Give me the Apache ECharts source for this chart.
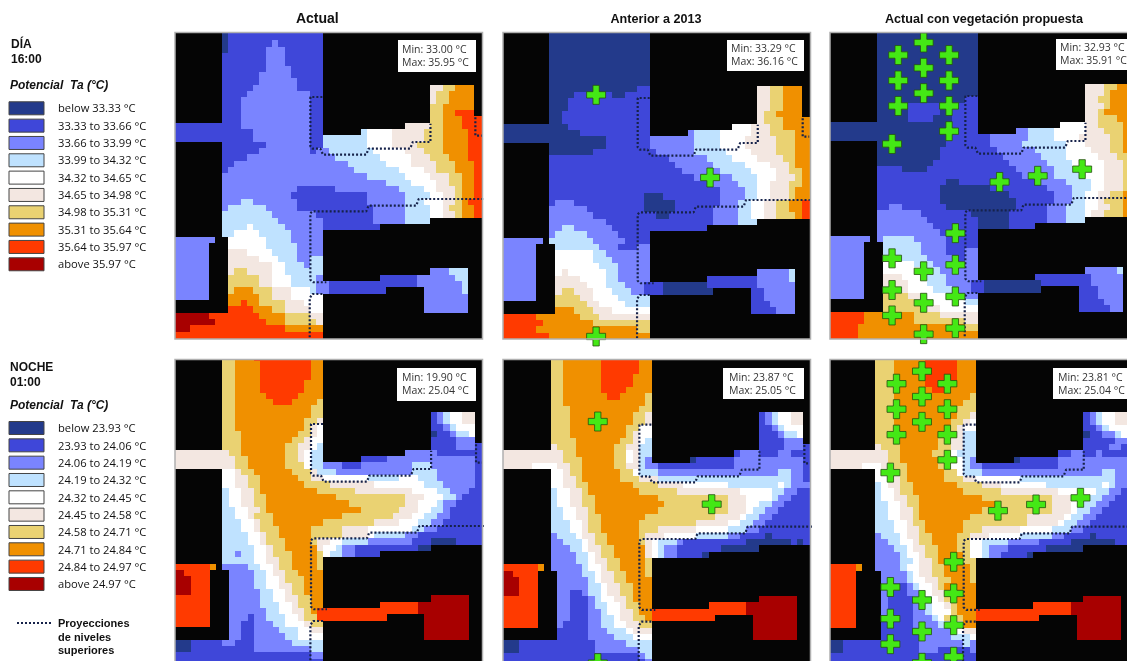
<!DOCTYPE html>
<html>
<head>
	<meta charset="utf-8">
	<title>Potencial Ta</title>
	<script src="https://cdn.jsdelivr.net/npm/echarts@6/dist/echarts.min.js"></script>
	<style>html,body{margin:0;padding:0;background:#fff;overflow:hidden}</style>
</head>
<body>
	<div id="main" style="width:1127px;height:661px;"></div>
	<script>
		// temperature classes, coolest to hottest
		var classColors = ['#233a8b','#3f47d9','#7a84ff','#bfe2ff','#ffffff','#f3e7e1','#ead272','#f09000','#ff3a00','#a80000'];
		var legendDay = ['below 33.33 °C','33.33 to 33.66 °C','33.66 to 33.99 °C','33.99 to 34.32 °C','34.32 to 34.65 °C','34.65 to 34.98 °C','34.98 to 35.31 °C','35.31 to 35.64 °C','35.64 to 35.97 °C','above 35.97 °C'];
		var legendNight = ['below 23.93 °C','23.93 to 24.06 °C','24.06 to 24.19 °C','24.19 to 24.32 °C','24.32 to 24.45 °C','24.45 to 24.58 °C','24.58 to 24.71 °C','24.71 to 24.84 °C','24.84 to 24.97 °C','above 24.97 °C'];
		var panelTitles = ['Actual','Anterior a 2013','Actual con vegetación propuesta'];
		var minMax = [['Min: 33.00 °C','Max: 35.95 °C'],['Min: 33.29 °C','Max: 36.16 °C'],['Min: 32.93 °C','Max: 35.91 °C'],['Min: 19.90 °C','Max: 25.04 °C'],['Min: 23.87 °C','Max: 25.05 °C'],['Min: 23.81 °C','Max: 25.04 °C']];

		// each row: "row| startColumn:class ..."; x = building, a row repeats until the next one
		var dayActual = [
			'0|8:0 9:1 24:x','2|8:0 9:1 16:2 17:1 24:x','3|8:0 9:1 15:2 18:1 24:x','4|8:1 15:2 18:1 24:x','6|8:1 15:2 19:1 24:x','7|8:1 14:2 19:1 24:x','8|8:1 14:2 20:1 24:x',
			'9|8:1 13:2 20:1 24:x 41:5 43:6 45:7 48:x','10|8:1 12:2 22:1 24:x 41:5 42:6 44:7 48:x','11|8:1 11:2 22:1 24:x 41:5 42:6 44:7 48:x','12|8:1 11:2 22:1 24:x 41:6 43:7 48:x','13|8:1 11:2 22:1 24:x 41:6 43:7 45:8 48:x','14|8:1 11:2 22:1 24:x 41:6 43:7 46:8',
			'15|0:1 11:2 22:1 24:x 37:5 41:6 43:7 46:8','16|0:1 13:2 22:1 24:x 30:3 31:4 35:5 40:6 43:7 47:8','17|0:1 13:2 22:1 24:3 31:4 35:5 40:6 43:7 47:8','18|8:1 15:2 22:1 24:3 31:4 35:5 39:6 43:7 47:8','19|8:1 14:2 22:1 23:2 25:3 32:4 37:5 40:6 43:7 47:8','20|8:1 12:2 26:3 33:4 38:5 41:6 44:7 47:8','21|8:1 10:2 28:3 34:4 38:5 42:6 45:7 48:8','22|8:1 9:2 29:3 36:4 40:5 42:6 45:7 48:8','23|8:2 31:3 37:4 41:5 44:6 46:7 48:8','24|8:2 34:3 38:4 42:5 44:6 46:7 48:8','25|8:2 20:1 26:2 36:3 40:4 42:5 45:6 46:7 48:8','26|8:2 19:1 31:2 37:3 41:4 43:5 45:6 46:7 48:8','27|8:2 11:3 13:2 20:1 31:2 37:3 40:4 43:5 45:6 46:7 47:8','28|8:2 9:3 15:2 20:1 32:2 37:3 41:4 43:5 44:6 46:7 48:8','29|8:3 16:2 23:1 32:2 37:3 41:4 43:5 45:6 46:7 48:8','30|8:3 17:2 24:1 32:2 37:3 41:x','31|8:3 12:4 13:3 18:2 24:1 33:x','32|8:3 10:4 14:3 19:2 24:x',
			'33|0:2 7:x 9:4 15:3 19:2 24:x','34|0:2 6:x 9:4 15:3 20:2 24:x','35|0:2 6:x 9:5 12:4 16:3 20:2 24:x','36|0:2 6:x 9:5 14:4 17:3 20:2 22:3 24:x','37|0:2 6:x 9:5 16:4 18:3 21:2 22:3 24:x','38|0:2 6:x 9:5 10:6 12:5 16:4 18:3 24:x 41:2 44:3 47:x','39|0:2 6:x 9:6 14:5 16:4 19:3 23:2 24:x 33:1 39:2 45:3 47:x','40|0:2 6:x 9:6 14:5 16:4 19:3 23:2 25:1 39:2 46:3 47:x','41|0:2 6:x 9:6 10:7 13:6 16:5 19:4 22:3 23:2 25:1 34:x 40:2 46:3 47:x','42|0:2 6:x 9:7 14:6 16:5 19:4 24:x 40:2 47:x','43|9:7 11:8 12:7 14:6 18:5 21:4 24:x 40:2 47:x','44|9:8 13:7 16:6 18:5 22:4 24:x 40:2 47:x','45|0:9 6:8 14:7 18:6 22:5 24:x','46|0:9 7:8 15:7 18:6 23:5 24:x','47|0:9 3:8 18:7 24:x','48|0:8 24:x'
		];
		var dayBefore = [
			'0|8:0 24:x','9|8:0 22:1 24:x 41:5 43:6 45:7 48:x','10|8:0 12:1 18:0 20:1 24:x 41:5 43:6 45:7 48:x','11|8:0 11:1 24:x 41:5 43:6 45:7 48:x','13|8:0 10:1 24:x 41:5 42:6 44:7 48:x','14|8:0 10:1 24:x 41:5 42:6 45:7','15|0:0 11:1 24:x 37:4 40:5 43:6 45:7','16|0:0 13:1 24:x 30:2 31:3 35:4 40:5 43:6 47:7','17|0:0 17:1 24:2 31:3 35:4 39:5 44:6 47:7','18|8:0 17:1 24:2 31:3 35:4 39:5 44:6 47:7','19|8:0 15:1 25:2 31:3 36:4 40:5 44:6 47:7','20|8:1 27:2 33:3 37:4 41:5 45:6 47:7','21|8:1 28:2 34:3 39:4 43:5 46:6 47:7','22|8:1 29:2 35:3 40:4 44:5 46:6 48:7','23|8:1 31:2 37:3 41:4 44:5 47:6 48:7','24|8:1 34:2 38:3 41:4 43:5 46:6 48:7','25|8:1 35:2 39:3 41:4 43:5 46:6 47:7','26|8:1 23:0 26:1 35:2 39:3 41:4 43:5 46:6 47:7','27|8:1 9:2 12:1 23:0 28:1 35:2 38:3 40:4 42:5 44:6 46:7 48:8','28|8:2 14:1 23:0 28:1 34:2 38:3 40:4 42:5 44:6 46:7 48:8','29|8:2 15:1 25:0 27:1 34:2 38:3 40:4 42:5 44:6 47:7 48:8','30|8:2 17:1 34:2 38:3 41:x','31|8:2 10:3 12:2 18:1 33:x','32|8:2 9:3 14:2 19:1 24:x',
			'33|0:2 7:x 8:3 15:2 20:1 24:x','34|0:2 6:x 9:3 16:2 19:1 22:2 24:x','35|0:2 6:x 9:4 15:3 17:2 24:x','36|0:2 6:x 9:4 15:3 18:2 24:x','37|0:2 6:x 9:4 16:3 19:2 24:x','38|0:2 6:x 9:4 10:5 11:4 17:3 19:2 24:x 41:2 46:3 47:x','39|0:2 6:x 9:5 13:4 17:3 19:2 24:x 33:1 41:2 46:3 47:x','40|0:2 6:x 9:5 14:4 17:3 20:2 23:1 26:0 33:1 41:2 47:x','41|0:2 6:x 9:5 10:6 12:5 15:4 18:3 21:2 23:1 26:0 34:x 40:1 42:2 47:x','42|0:2 6:x 9:6 13:5 15:4 19:3 24:x 40:1 42:2 47:x','43|9:6 14:5 16:4 20:3 24:x 40:1 43:2 47:x','44|9:7 12:6 15:5 18:4 24:x 40:1 44:2 47:x','45|0:8 6:7 13:6 16:5 24:x','46|0:8 7:7 15:6 24:x','47|0:8 6:7 22:6 24:x','48|0:8 8:7 24:x'
		];
		var dayProposed = [
			'0|8:0 24:x','9|8:0 24:x 41:5 44:6 46:7 48:x','10|8:0 24:x 41:5 44:6 45:7 48:x','11|8:0 22:1 24:x 41:5 43:6 45:7 48:x','12|8:0 13:1 18:0 20:1 24:x 41:5 44:6 45:7 48:x','13|8:0 13:1 18:0 20:1 24:x 41:5 43:6 44:7 48:x','14|8:0 13:1 17:0 20:1 24:x 41:5 43:6 46:7','15|0:0 20:1 24:x 37:4 41:5 43:6 47:7','16|0:0 20:1 24:x 30:2 32:3 36:4 41:5 44:6 47:7','17|0:0 19:1 26:2 32:3 36:4 40:5 45:6 47:7','18|8:0 19:1 26:2 31:3 38:4 41:5 45:6 47:7','19|8:0 18:1 27:2 33:3 38:4 42:5 45:6 47:7','20|8:0 18:1 28:2 34:3 38:4 43:5 46:6','21|8:0 17:1 29:2 35:3 39:4 44:5 47:6','22|8:1 12:0 16:1 30:2 36:3 39:4 44:5 47:6','23|8:1 31:2 36:3 41:4 44:5 47:6','24|8:1 19:0 21:1 34:2 38:3 42:4 44:5 47:6','25|8:1 18:0 26:1 35:2 39:3 42:4 44:5 47:6','26|8:1 18:0 29:1 36:2 39:3 41:4 43:5 45:6 47:7','27|8:1 18:0 30:1 36:2 39:3 41:4 43:5 44:6 47:7','28|8:1 10:2 12:1 19:0 30:1 35:2 38:3 41:4 43:5 45:6 47:7','29|8:2 15:1 23:0 29:1 35:2 38:3 41:4 42:5 44:6 47:7','30|8:2 16:1 24:0 29:1 35:2 38:3 41:x','31|8:2 17:1 24:0 29:1 33:x','32|8:2 18:1 24:x',
			'33|0:2 7:x 8:2 9:3 14:2 19:1 24:x','34|0:2 6:x 9:3 15:2 19:1 24:x','35|0:2 6:x 9:3 15:2 19:1 22:2 24:x','36|0:2 6:x 9:3 16:2 20:1 22:2 24:x','37|0:2 6:x 9:4 14:3 17:2 24:x','38|0:2 6:x 9:4 15:3 18:2 24:x 41:2 46:3 47:x','39|0:2 6:x 9:5 12:4 16:3 19:2 24:x 33:1 42:2 47:x','40|0:2 6:x 9:5 13:4 16:3 19:2 23:1 25:0 34:1 42:2 47:x','41|0:2 6:x 9:5 13:4 17:3 20:2 23:1 25:0 34:x 40:1 43:2 47:x','42|0:2 6:x 9:6 13:5 15:4 19:3 21:2 24:x 40:1 43:2 47:x','43|9:6 14:5 16:4 22:3 24:x 40:1 44:2 47:x','44|9:6 15:5 18:4 24:x 40:1 45:2 47:x','45|0:8 6:7 14:6 18:5 24:x','46|0:8 6:7 14:6 22:5 24:x','47|0:8 5:7 22:6 24:x','48|0:8 5:7 24:x'
		];
		var nightActual = [
			'0|8:6 10:7 13:8 22:7 24:x','1|8:6 10:7 14:8 22:7 24:x','4|8:6 10:7 14:8 21:7 24:x','6|8:6 10:7 15:8 20:7 24:x','7|8:6 10:7 16:8 19:7 23:6 24:x','8|8:6 10:7 22:6 24:x','9|8:6 10:7 22:6 24:x 41:1 42:2 43:3 44:4 46:5 48:x','10|8:6 10:7 21:6 23:5 24:x 41:1 42:2 43:3 44:4 46:5 48:x','11|8:6 10:7 21:6 22:5 23:4 24:x 41:1 43:2 44:3 45:4 48:x','12|8:6 11:7 20:6 22:5 23:4 24:x 41:0 42:1 44:2 45:3 47:4 48:x','13|8:6 11:7 19:6 21:5 22:4 24:x 41:1 45:2 48:x','14|8:6 11:7 18:6 20:5 22:4 23:3 24:x 41:1 45:2 48:1','15|0:5 9:6 11:7 18:6 20:5 21:4 22:3 24:x 37:2 42:1','16|0:5 10:6 12:7 18:6 20:5 21:4 22:3 24:x 30:1 34:2 48:1','17|0:5 10:6 12:7 18:6 21:4 22:3 24:2 27:1 30:2 38:3 41:2 48:1','18|8:4 10:5 11:6 13:7 19:6 22:5 23:3 26:2 38:3 42:2 48:1','19|8:4 10:5 12:6 14:7 20:6 22:5 24:4 31:3 36:4 39:3 42:2 48:1','20|8:4 10:5 12:6 14:7 21:6 25:5 32:4 40:3 43:2 48:1','21|8:3 9:4 11:5 13:6 14:7 23:6 29:5 38:4 42:3 44:2 47:1','22|8:3 9:4 11:5 13:6 15:7 26:6 37:5 40:4 43:3 45:2 46:1','23|8:3 9:4 11:5 13:6 15:7 28:6 37:5 39:4 42:3 43:2 45:1','24|8:3 10:4 12:5 14:6 15:7 30:6 36:5 39:4 41:3 43:2 44:1','25|8:3 10:4 12:5 13:6 16:7 27:6 35:5 38:4 40:3 42:2 44:1','26|8:3 11:4 13:5 14:6 16:7 24:6 32:5 36:4 39:3 41:2 43:1','27|8:3 11:4 13:5 14:6 17:7 22:6 27:5 31:4 38:3 40:2 42:1','28|8:3 12:4 14:5 15:6 17:7 22:6 27:5 31:4 32:3 37:2 39:1','29|8:3 12:4 14:5 15:6 18:7 22:6 23:5 25:4 27:3 31:2 38:1 41:0 45:1','30|8:3 13:4 15:5 16:6 18:7 23:5 24:4 26:3 27:2 29:1 39:0 41:x','31|8:3 10:2 11:3 13:4 15:5 16:6 19:7 23:6 24:4 25:3 27:2 29:1 33:x','32|8:3 13:4 15:5 17:6 19:7 23:6 24:x',
			'33|0:8 6:7 7:x 8:2 12:3 14:4 16:5 17:6 19:7 23:6 24:x','34|0:9 2:8 6:x 9:2 13:3 15:4 16:5 18:6 20:7 24:x','35|0:9 3:8 6:x 9:2 13:3 15:4 17:5 18:6 21:7 24:x','36|0:9 3:8 6:x 9:2 13:3 15:4 17:5 19:6 21:7 24:x','37|0:9 3:8 6:x 9:2 14:3 16:4 18:5 19:6 21:7 24:x','38|0:8 6:x 9:2 14:3 16:4 18:5 20:6 22:7 24:x 41:9 47:x','39|0:8 6:x 9:2 14:3 17:4 19:5 20:6 22:7 24:x 33:8 39:9 47:x','40|0:8 6:x 9:2 15:3 17:4 19:5 21:6 22:7 23:8 39:9 47:x','41|0:8 6:x 9:2 12:1 13:2 15:3 18:4 20:5 21:6 23:8 34:x 40:9 47:x','42|0:8 6:x 9:2 11:1 13:2 16:3 18:4 21:5 22:6 24:x 40:9 47:x','43|9:2 11:1 13:2 17:3 20:4 22:5 24:x 40:9 47:x','44|9:2 11:1 13:2 18:3 20:4 24:x 40:9 47:x','45|0:0 3:1 8:2 10:1 13:2 19:3 24:x','46|0:0 3:1 13:2 22:3 24:x','47|0:1 22:2 24:x','48|0:1 24:x'
		];
		var nightBefore = [
			'0|8:6 10:7 16:8 22:7 24:x','3|8:6 10:7 16:8 21:7 24:x','5|8:6 10:7 16:8 20:7 24:x','6|8:6 10:7 17:8 19:7 23:6 24:x','7|8:6 10:7 23:6 24:x','8|8:6 11:7 22:6 24:x','9|8:6 11:7 21:6 23:5 24:x 41:1 42:2 43:3 44:4 46:5 48:x','11|8:6 11:7 20:6 22:4 24:x 41:1 43:2 44:3 45:4 48:x','12|8:6 11:7 20:6 21:5 22:4 24:x 41:1 44:2 45:3 47:4 48:x','13|8:6 12:7 19:6 21:5 22:4 23:3 24:x 41:1 45:2 48:x','14|8:5 9:6 12:7 18:6 20:5 22:3 24:x 41:1 45:2 48:1','15|0:5 10:6 12:7 18:6 20:4 21:5 22:3 24:x 37:1 38:2 41:1 44:2 46:1','16|0:5 10:6 13:7 18:6 20:4 21:5 22:3 23:2 24:x 30:0 31:1 37:2 48:1','17|0:5 5:4 9:5 11:6 13:7 18:6 20:5 22:3 23:2 25:1 37:2 48:1','18|8:4 10:5 11:6 13:7 19:6 21:4 22:3 25:2 44:3 46:2 48:1','19|8:4 10:5 12:6 13:7 19:6 22:5 25:3 46:2 48:1','20|8:4 10:5 12:6 14:7 21:6 25:5 29:4 36:3 44:4 45:3 46:2','21|8:3 9:4 11:5 13:6 14:7 22:6 28:5 38:4 43:3 45:2 47:1','22|8:3 9:4 11:5 13:6 15:7 25:6 36:5 39:4 43:3 44:2 46:1','23|8:3 9:4 11:5 13:6 15:7 26:6 36:5 39:4 41:3 43:2 45:1','24|8:3 10:4 12:5 14:6 15:7 25:6 36:5 39:4 40:3 42:2 44:1','25|8:3 10:4 12:5 14:6 16:7 23:6 34:5 38:4 39:3 41:2 43:1','26|8:3 11:4 13:5 14:6 16:7 22:6 31:5 36:4 38:3 40:2 42:1','27|8:3 11:4 13:5 14:6 16:7 22:6 25:5 31:4 36:3 39:2 41:1','28|8:2 9:3 12:4 13:5 15:6 17:7 22:6 23:5 26:4 31:3 36:2 38:1 42:0 43:1','29|8:2 10:3 13:4 14:5 15:6 17:7 22:6 23:5 24:4 25:3 28:2 29:1 39:0 46:1 47:0 48:1','30|8:2 11:3 13:4 14:5 16:6 18:7 23:5 24:4 25:3 26:2 28:1 35:0 41:x','31|8:2 12:3 14:4 15:5 16:6 18:7 23:5 24:4 25:3 26:2 28:1 32:0 33:x','32|8:2 12:3 14:4 15:5 17:6 19:7 23:6 24:x',
			'33|0:8 6:7 7:x 8:2 13:3 14:4 16:5 17:6 19:7 23:6 24:x','34|0:9 2:8 6:x 9:2 13:3 15:4 16:5 18:6 20:7 23:6 24:x','35|0:9 3:8 6:x 9:2 14:3 15:4 16:5 18:6 20:7 24:x','36|0:9 3:8 6:x 9:2 14:3 16:4 17:5 19:6 21:7 24:x','37|0:9 3:8 6:x 9:2 11:1 13:2 14:3 16:4 17:5 19:6 21:7 24:x','38|0:8 6:x 9:2 11:1 14:2 15:3 16:4 18:5 20:6 21:7 24:x 41:9 47:x','39|0:8 6:x 9:2 11:1 14:2 15:3 17:4 19:5 20:6 22:7 24:x 33:8 39:9 47:x','40|0:8 6:x 9:2 11:1 14:2 16:3 17:4 19:5 21:6 22:7 24:8 39:9 47:x','41|0:8 6:x 9:2 11:1 14:2 16:3 18:4 19:5 21:6 23:7 24:8 34:x 40:9 47:x','42|0:8 6:x 9:2 10:1 14:2 16:3 18:4 20:5 22:6 24:x 40:9 47:x','43|9:1 14:2 17:3 20:4 21:5 24:x 40:9 47:x','44|9:1 14:2 18:3 21:4 24:x 40:9 47:x','45|0:0 3:1 15:2 20:3 24:x','46|0:0 3:1 15:2 22:3 24:x','47|0:1 22:2 23:3 24:x','48|0:1 23:2 24:x'
		];
		var nightProposed = [
			'0|8:6 11:7 16:8 21:7 24:x','4|8:6 11:7 16:8 20:7 24:x','5|8:6 11:7 17:8 19:7 24:x','6|8:6 11:7 23:6 24:x','7|8:6 11:7 22:6 24:x','8|8:6 11:7 21:6 24:x','9|8:6 11:7 21:6 23:5 24:x 41:1 42:2 43:3 44:4 46:5 48:x','10|8:6 11:7 20:6 22:5 23:4 24:x 41:1 42:2 43:3 44:4 46:5 48:x','11|8:6 11:7 20:6 21:5 22:4 24:x 41:1 43:2 44:3 45:4 48:x','12|8:6 12:7 19:6 21:5 22:3 24:x 41:0 42:1 44:2 46:3 47:4 48:x','13|8:6 12:7 18:6 20:5 22:3 24:x 41:1 46:2 48:x','14|8:5 9:6 12:7 18:6 20:5 22:3 24:x 41:1 45:2 47:1','15|0:5 10:6 12:7 17:6 20:4 21:3 24:x 37:1 39:2 41:1 43:2 44:1','16|0:5 10:6 12:7 18:6 20:4 22:3 23:2 24:x 30:0 31:1 37:2','17|0:5 6:4 9:5 11:6 13:7 18:6 20:4 22:3 23:2 25:1 37:2','18|8:4 10:5 11:6 13:7 19:6 21:4 22:3 25:2 44:3 46:2','19|8:4 10:5 12:6 13:7 19:6 22:5 24:4 31:3 46:2','20|8:3 9:4 10:5 12:6 14:7 21:6 25:5 28:4 35:3 44:4 45:3 46:2','21|8:3 9:4 11:5 12:6 14:7 22:6 28:5 37:4 43:3 45:2 47:1','22|8:3 9:4 11:5 13:6 15:7 25:6 36:5 39:4 41:3 44:2 46:1','23|8:3 10:4 12:5 13:6 15:7 27:6 36:5 39:4 40:3 43:2 45:1','24|8:3 10:4 12:5 14:6 15:7 25:6 36:5 39:4 40:3 42:2 44:1','25|8:3 10:4 12:5 14:6 15:7 23:6 32:5 38:4 39:3 41:2 43:1','26|8:3 11:4 13:5 14:6 16:7 22:6 32:5 37:4 38:3 40:2 42:1','27|8:3 11:4 13:5 15:6 16:7 22:6 25:5 31:4 36:3 39:2 41:1','28|8:2 9:3 12:4 13:5 15:6 17:7 21:6 23:5 26:4 31:3 36:2 38:1 42:0 43:1','29|8:2 10:3 12:4 14:5 15:6 17:7 21:6 23:4 25:3 29:2 34:1 39:0 46:1','30|8:2 11:3 13:4 14:5 16:6 18:7 21:6 23:4 25:3 26:2 29:1 35:0 41:x','31|8:2 12:3 13:4 15:5 16:6 18:7 22:6 23:4 25:3 26:2 28:1 32:0 33:x','32|8:2 12:3 14:4 15:5 17:6 18:7 22:6 24:x',
			'33|0:8 5:7 6:x 8:2 12:3 13:4 15:5 17:6 19:7 23:6 24:x','34|0:8 5:x 9:2 13:3 14:4 15:5 17:6 19:7 23:6 24:x','35|0:8 5:x 9:2 13:3 14:4 16:5 18:6 20:7 23:6 24:x','36|0:8 5:x 9:2 10:1 13:2 14:3 15:4 17:5 18:6 19:7 24:x','37|0:8 5:x 9:2 10:1 13:2 15:3 16:4 17:5 19:6 21:7 24:x','38|0:8 5:x 9:2 10:1 14:2 16:3 17:4 18:5 19:6 21:7 24:x 41:9 47:x','39|0:8 5:x 9:2 10:1 14:2 16:3 17:4 19:5 20:6 21:7 24:x 33:8 39:9 47:x','40|0:8 5:x 9:2 10:1 14:2 16:3 17:4 20:6 21:7 24:8 39:9 47:x','41|0:8 5:x 9:1 14:2 17:3 18:4 19:6 22:7 24:8 34:x 40:9 47:x','42|0:8 5:x 9:1 14:2 18:3 20:4 22:7 24:x 40:9 47:x','43|9:1 15:2 20:3 21:4 22:5 24:x 40:9 47:x','44|9:1 15:2 20:3 23:4 24:x 40:9 47:x','45|0:0 3:1 15:2 22:3 23:2 24:x','46|0:0 3:1 15:2 18:1 23:2 24:x','47|0:1 24:x'
		];

		// proposed trees, cell units [column, row]
		var treesBefore = [[15.47,10.45],[33.5,23.5],[15.47,48.6]];
		var treesProposed = [[15.45,2.5],[11.42,4.48],[19.47,4.48],[15.45,6.5],[11.42,8.5],[19.47,8.5],[15.45,10.5],[11.42,12.52],[19.47,12.52],[19.47,16.5],[10.45,18.52],[27.47,24.52],[33.5,23.55],[40.53,22.5],[20.47,32.6],[10.45,36.58],[20.47,37.6],[15.45,38.63],[10.45,41.58],[20.47,42.6],[15.45,43.6],[10.45,45.6],[20.47,47.6],[15.45,48.55]];

		// upper level projections, cell units
		var projUpper = [[23.95,10.95],[22.05,10.95],[22.05,18.74],[22.37,19.1],[23.63,19.1],[24.05,20.05],[30.9,20.05],[31.26,19.1],[37.84,19.1],[38.26,18.05],[41.05,18.05],[41.05,15.16]];
		var projRight = [[48.16,14.16],[48.16,17.05],[49.2,17.05]];
		var projMiddle = [[49.4,27.05],[39.2,27.05],[38.8,28.1],[31.26,28.1],[30.9,29],[22.37,29],[22.05,29.3],[22.05,39.8],[22.47,40.2],[24.58,40.2]];
		var projLower = [[23.95,42.05],[22.37,42.05],[21.95,42.7],[21.95,49.1]];

		var panelRows = [dayActual,dayBefore,dayProposed,nightActual,nightBefore,nightProposed];
		var panelTrees = [[],treesBefore,treesProposed,[],treesBefore,treesProposed];
		// how far each image sits from the grid of the first one, in px of the 3x crop
		var panelDx = [0,-2,0,2,3,-5];
		var panelDy = [0,3,-3,0,2,2];
		var panelLeft = [175,503,830,175,503,830];
		var panelTop = [33,33,33,360,360,360];
		var boxes = [[398,40,78,32,402,50],[727,40,77,31,731,49],[1056,39,80,31,1060,48],[397,368,79,33,402,378],[723,368,81,31,729,378],[1053,368,80,31,1058,378]];

		function expandRows(rows){
			var cells = [], cur = '', next = 0;
			for(var r=0;r<=49;r++){
				if(next<rows.length && parseInt(rows[next])===r){
					cur = rows[next].split('|')[1];
					next++;
				}
				var toks = cur.split(' ');
				for(var t=0;t<toks.length;t++){
					var p = toks[t].split(':');
					if(p[1]==='x') continue;
					var from = +p[0];
					var to = t+1<toks.length ? +toks[t+1].split(':')[0] : 50;
					for(var c=from;c<to;c++) cells.push([c,r,+p[1]]);
				}
			}
			return cells;
		}

		function renderCell(params,api){
			var a = api.coord([api.value(0),api.value(1)]);
			var b = api.coord([api.value(0)+1,api.value(1)+1]);
			var x = Math.round(a[0]), y = Math.round(a[1]);
			return {
				type:'rect',
				shape:{x:x,y:y,width:Math.round(b[0])-x,height:Math.round(b[1])-y},
				style:{fill:classColors[api.value(2)]}
			};
		}

		var grids=[],xAxes=[],yAxes=[],series=[],graphics=[];
		var plus = 'path://M1 0h1v1h1v1h-1v1h-1v-1h-1v-1h1z';
		var projections = [projUpper,projRight,projMiddle,projLower];
		var bodyFont = '11.2px "Open Sans"';

		panelRows.forEach(function(rows,i){
			grids.push({left:panelLeft[i],top:panelTop[i],width:307,height:306,outerBoundsMode:'none',show:true,backgroundColor:'#050505',borderWidth:0});
			xAxes.push({type:'value',gridIndex:i,show:false,min:(12-panelDx[i])/19,max:(935-panelDx[i])/19});
			yAxes.push({type:'value',gridIndex:i,show:false,inverse:true,min:(16-panelDy[i])/19,max:(934-panelDy[i])/19});
			series.push({type:'custom',xAxisIndex:i,yAxisIndex:i,renderItem:renderCell,data:expandRows(rows),clip:true,silent:true,progressive:0,encode:{x:0,y:1}});
			projections.forEach(function(p){
				series.push({type:'line',xAxisIndex:i,yAxisIndex:i,data:p,showSymbol:false,silent:true,clip:true,z:3,lineStyle:{color:'#16224a',width:2.2,type:[2,2]}});
			});
			if(panelTrees[i].length){
				series.push({type:'scatter',xAxisIndex:i,yAxisIndex:i,data:panelTrees[i],symbol:plus,symbolSize:19,silent:true,clip:true,z:4,itemStyle:{color:'#44e815',opacity:1,borderColor:'#26500f',borderWidth:0.8}});
			}
			// panel frame and min/max label
			graphics.push({type:'rect',z:50,silent:true,shape:{x:panelLeft[i],y:panelTop[i]-0.5,width:307.5,height:306.5},style:{fill:null,stroke:'#b0b0b0',lineWidth:1.5}});
			var b = boxes[i];
			graphics.push({type:'rect',z:51,silent:true,shape:{x:b[0],y:b[1],width:b[2],height:b[3]},style:{fill:'#fff'}});
			graphics.push({type:'text',z:52,silent:true,style:{x:b[4],y:b[5],text:minMax[i][0],font:'10.5px "Open Sans"',fill:'#333',verticalAlign:'middle'}});
			graphics.push({type:'text',z:52,silent:true,style:{x:b[4],y:b[5]+13,text:minMax[i][1],font:'10.5px "Open Sans"',fill:'#333',verticalAlign:'middle'}});
		});

		function txt(x,y,text,font,align){
			graphics.push({type:'text',silent:true,style:{x:x,y:y,text:text,font:font,fill:'#111',verticalAlign:'middle',align:align||'left'}});
		}
		function legend(labels,x,y0){
			labels.forEach(function(l,k){
				var y = y0+k*17.33;
				graphics.push({type:'rect',silent:true,shape:{x:x,y:y-6.5,width:35,height:13},style:{fill:classColors[k],stroke:'#444',lineWidth:1}});
				txt(58,y+1,l,bodyFont);
			});
		}
		var boldF = 'bold 12px "Liberation Sans"';
		txt(317.3,19.5,panelTitles[0],'bold 14px "Liberation Sans"','center');
		txt(656,19.5,panelTitles[1],'bold 12.6px "Liberation Sans"','center');
		txt(984,19.5,panelTitles[2],'bold 12.6px "Liberation Sans"','center');
		txt(11,44.5,'DÍA',boldF);
		txt(11,59.5,'16:00',boldF);
		txt(10,86,'Potencial  Ta (°C)','italic bold 12px "Liberation Sans"');
		legend(legendDay,9,108.3);
		txt(10,368,'NOCHE',boldF);
		txt(10,383,'01:00',boldF);
		txt(10,406,'Potencial  Ta (°C)','italic bold 12px "Liberation Sans"');
		legend(legendNight,9,428);
		graphics.push({type:'line',silent:true,shape:{x1:17,y1:623,x2:52,y2:623},style:{stroke:'#16224a',lineWidth:2,lineDash:[2,2]}});
		txt(58,624,'Proyecciones','bold 11px "Liberation Sans"');
		txt(58,637.5,'de niveles','bold 11px "Liberation Sans"');
		txt(58,651,'superiores','bold 11px "Liberation Sans"');

		var myChart = echarts.init(document.getElementById('main'),null,{renderer:'canvas'});
		myChart.setOption({
			animation:false,
			backgroundColor:'#fff',
			grid:grids,
			xAxis:xAxes,
			yAxis:yAxes,
			series:series,
			graphic:{elements:graphics}
		});
	</script>
</body>
</html>
